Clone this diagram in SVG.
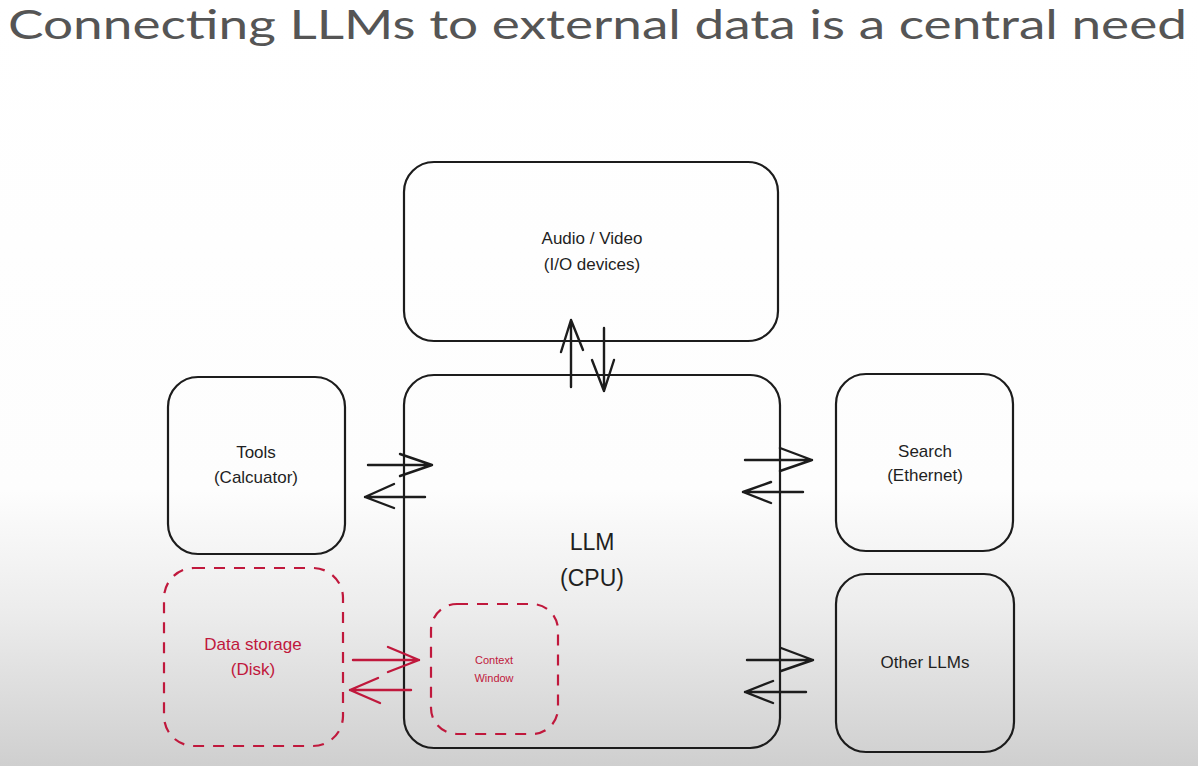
<svg xmlns="http://www.w3.org/2000/svg" width="1198" height="766" viewBox="0 0 1198 766">
  <defs>
    <linearGradient id="bg" x1="0" y1="0" x2="0" y2="1">
      <stop offset="0" stop-color="#ffffff"/>
      <stop offset="0.64" stop-color="#fdfdfd"/>
      <stop offset="0.8" stop-color="#ececec"/>
      <stop offset="1" stop-color="#cfcfcf"/>
    </linearGradient>
    <style>
      .box { fill: none; stroke: #1c1c1c; stroke-width: 2.2; }
      .dbox { fill: none; stroke: #c0183c; stroke-width: 2.2; stroke-dasharray: 11 9; }
      .t { font-family: "Liberation Sans", Arial, sans-serif; fill: #1f1f1f; text-anchor: middle; font-size: 17px; }
      .tr { fill: #c0183c; }
      .ln { fill: none; stroke: #1c1c1c; stroke-width: 2.4; stroke-linecap: round; stroke-linejoin: round; }
      .lr { fill: none; stroke: #c0183c; stroke-width: 2.4; stroke-linecap: round; stroke-linejoin: round; }
      .title { font-family: Lato, "Open Sans", sans-serif; fill: #555555; font-size: 41px; }
    </style>
  </defs>
  <rect x="0" y="0" width="1198" height="766" fill="url(#bg)"/>
  <text class="title" x="8" y="39" textLength="1179" lengthAdjust="spacingAndGlyphs">Connecting LLMs to external data is a central need</text>

  <g id="node-audio">
    <rect class="box" x="404" y="162" width="374" height="179" rx="30"/>
    <text class="t" x="592" y="244">Audio / Video</text>
    <text class="t" x="592" y="270">(I/O devices)</text>
  </g>
  <g id="node-llm">
    <rect class="box" x="404" y="375" width="376" height="373" rx="30"/>
    <text class="t" x="592" y="550" style="font-size:23px">LLM</text>
    <text class="t" x="592" y="586" style="font-size:23px">(CPU)</text>
  </g>
  <g id="node-tools">
    <rect class="box" x="168" y="377" width="177" height="177" rx="30"/>
    <text class="t" x="256" y="458">Tools</text>
    <text class="t" x="256" y="483">(Calcuator)</text>
  </g>
  <g id="node-search">
    <rect class="box" x="836" y="374" width="177" height="177" rx="30"/>
    <text class="t" x="925" y="457">Search</text>
    <text class="t" x="925" y="481">(Ethernet)</text>
  </g>
  <g id="node-other">
    <rect class="box" x="836" y="574" width="178" height="178" rx="30"/>
    <text class="t" x="925" y="668">Other LLMs</text>
  </g>
  <g id="node-storage">
    <rect class="dbox" x="164" y="568" width="179" height="178" rx="30"/>
    <text class="t tr" x="253" y="650">Data storage</text>
    <text class="t tr" x="253" y="675">(Disk)</text>
  </g>
  <g id="node-context">
    <rect class="dbox" x="431" y="604" width="127" height="130" rx="26"/>
    <text class="t tr" x="494" y="664" style="font-size:11px">Context</text>
    <text class="t tr" x="494" y="682" style="font-size:11px">Window</text>
  </g>

  <g id="connectors">
    <path class="ln" d="M571 387 L571 320 M561 352 L571 320 L583 350"/>
    <path class="ln" d="M604 328 L604 391 M592 360 L604 391 L614 360"/>
    <path class="ln" d="M368 465 L432 465 M400 454 L432 465 L400 476"/>
    <path class="ln" d="M425 497 L365 497 M394 484 L365 497 L394 508"/>
    <path class="ln" d="M745 460 L812 460 M780 448 L812 460 L780 471"/>
    <path class="ln" d="M803 492 L743 492 M771 482 L743 492 L771 503"/>
    <path class="ln" d="M747 660 L813 660 M781 648 L813 660 L781 671"/>
    <path class="ln" d="M806 692 L745 692 M773 681 L745 692 L773 703"/>
    <path class="lr" d="M353 660 L419 660 M388 647 L419 660 L388 672"/>
    <path class="lr" d="M411 690 L350 690 M378 678 L350 690 L380 703"/>
  </g>
</svg>
